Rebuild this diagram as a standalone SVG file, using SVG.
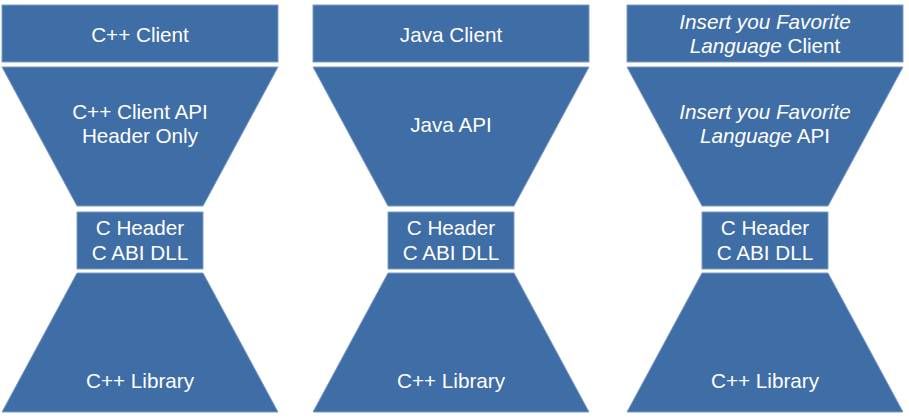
<svg xmlns="http://www.w3.org/2000/svg" width="909" height="418" viewBox="0 0 909 418">
<style>
.s{fill:#3F6DA6;stroke:#7D9CC6;stroke-width:1}
text{font-family:"Liberation Sans",Arial,sans-serif;font-size:20.7px;fill:#fff;text-anchor:middle}
.i{font-style:italic}
</style>
<rect width="909" height="418" fill="#fff"/>
<g id="col1">
<g id="cpp-client"><rect class="s" x="2" y="5" width="276" height="57"/><text x="140" y="42">C++ Client</text></g>
<g id="cpp-api"><polygon class="s" points="2,67 278,67 203,206 77,206"/><text x="140" y="119">C++ Client API</text><text x="140" y="143">Header Only</text></g>
<g id="c-abi-1"><rect class="s" x="77" y="212" width="126" height="57"/><text x="140" y="235">C Header</text><text x="140" y="260">C ABI DLL</text></g>
<g id="lib-1"><polygon class="s" points="77,273 203,273 278,412 2,412"/><text x="140" y="388">C++ Library</text></g>
</g>
<g id="col2">
<g id="java-client"><rect class="s" x="313" y="5" width="276" height="57"/><text x="451" y="42">Java Client</text></g>
<g id="java-api"><polygon class="s" points="313,67 589,67 514,206 388,206"/><text x="451" y="132">Java API</text></g>
<g id="c-abi-2"><rect class="s" x="388" y="212" width="126" height="57"/><text x="451" y="235">C Header</text><text x="451" y="260">C ABI DLL</text></g>
<g id="lib-2"><polygon class="s" points="388,273 514,273 589,412 313,412"/><text x="451" y="388">C++ Library</text></g>
</g>
<g id="col3">
<g id="fav-client"><rect class="s" x="627" y="5" width="276" height="57"/><text x="765" y="29" class="i">Insert you Favorite</text><text x="765" y="53"><tspan class="i">Language</tspan> Client</text></g>
<g id="fav-api"><polygon class="s" points="627,67 903,67 828,206 702,206"/><text x="765" y="119" class="i">Insert you Favorite</text><text x="765" y="143"><tspan class="i">Language</tspan> API</text></g>
<g id="c-abi-3"><rect class="s" x="702" y="212" width="126" height="57"/><text x="765" y="235">C Header</text><text x="765" y="260">C ABI DLL</text></g>
<g id="lib-3"><polygon class="s" points="702,273 828,273 903,412 627,412"/><text x="765" y="388">C++ Library</text></g>
</g>
<g id="connectors"/>
</svg>
